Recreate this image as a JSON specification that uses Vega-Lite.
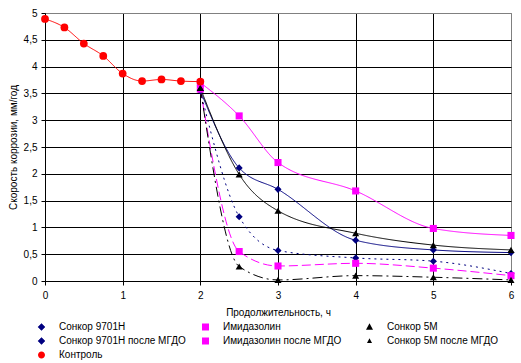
{
  "$schema": "https://vega.github.io/schema/vega-lite/v6.json",
  "width": 466,
  "height": 268,
  "autosize": {"type": "none"},
  "padding": {"left": 45, "top": 13, "right": 10, "bottom": 82},
  "background": "white",
  "config": {
    "view": {"stroke": "#808080", "strokeWidth": 1},
    "font": "Liberation Sans"
  },
  "data": {
    "values": [
      {"s": "Контроль", "x": 0, "y": 4.89},
      {"s": "Контроль", "x": 0.25, "y": 4.73},
      {"s": "Контроль", "x": 0.5, "y": 4.43},
      {"s": "Контроль", "x": 0.75, "y": 4.2},
      {"s": "Контроль", "x": 1, "y": 3.87},
      {"s": "Контроль", "x": 1.25, "y": 3.73},
      {"s": "Контроль", "x": 1.5, "y": 3.76},
      {"s": "Контроль", "x": 1.75, "y": 3.73},
      {"s": "Контроль", "x": 2, "y": 3.72},
      {"s": "Сонкор 9701Н", "x": 2, "y": 3.55},
      {"s": "Сонкор 9701Н", "x": 2.5, "y": 2.11},
      {"s": "Сонкор 9701Н", "x": 3, "y": 1.71},
      {"s": "Сонкор 9701Н", "x": 4, "y": 0.76},
      {"s": "Сонкор 9701Н", "x": 5, "y": 0.58},
      {"s": "Сонкор 9701Н", "x": 6, "y": 0.53},
      {"s": "Имидазолин", "x": 2, "y": 3.7},
      {"s": "Имидазолин", "x": 2.5, "y": 3.08},
      {"s": "Имидазолин", "x": 3, "y": 2.21},
      {"s": "Имидазолин", "x": 4, "y": 1.68},
      {"s": "Имидазолин", "x": 5, "y": 0.98},
      {"s": "Имидазолин", "x": 6, "y": 0.85},
      {"s": "Сонкор 5М", "x": 2, "y": 3.6},
      {"s": "Сонкор 5М", "x": 2.5, "y": 1.99},
      {"s": "Сонкор 5М", "x": 3, "y": 1.31},
      {"s": "Сонкор 5М", "x": 4, "y": 0.89},
      {"s": "Сонкор 5М", "x": 5, "y": 0.67},
      {"s": "Сонкор 5М", "x": 6, "y": 0.58},
      {"s": "Сонкор 9701Н после МГДО", "x": 2, "y": 3.55},
      {"s": "Сонкор 9701Н после МГДО", "x": 2.5, "y": 1.2},
      {"s": "Сонкор 9701Н после МГДО", "x": 3, "y": 0.57},
      {"s": "Сонкор 9701Н после МГДО", "x": 4, "y": 0.43},
      {"s": "Сонкор 9701Н после МГДО", "x": 5, "y": 0.37},
      {"s": "Сонкор 9701Н после МГДО", "x": 6, "y": 0.14},
      {"s": "Имидазолин после МГДО", "x": 2, "y": 3.58},
      {"s": "Имидазолин после МГДО", "x": 2.5, "y": 0.55},
      {"s": "Имидазолин после МГДО", "x": 3, "y": 0.28},
      {"s": "Имидазолин после МГДО", "x": 4, "y": 0.33},
      {"s": "Имидазолин после МГДО", "x": 5, "y": 0.24},
      {"s": "Имидазолин после МГДО", "x": 6, "y": 0.1},
      {"s": "Сонкор 5М после МГДО", "x": 2, "y": 3.6},
      {"s": "Сонкор 5М после МГДО", "x": 2.5, "y": 0.27},
      {"s": "Сонкор 5М после МГДО", "x": 3, "y": 0.02},
      {"s": "Сонкор 5М после МГДО", "x": 4, "y": 0.1},
      {"s": "Сонкор 5М после МГДО", "x": 5, "y": 0.07},
      {"s": "Сонкор 5М после МГДО", "x": 6, "y": 0.02}
    ]
  },
  "encoding": {
    "x": {
      "field": "x",
      "type": "quantitative",
      "scale": {"domain": [0, 6], "nice": false, "zero": false},
      "axis": {
        "values": [0, 1, 2, 3, 4, 5, 6],
        "title": "Продолжительность, ч",
        "grid": true,
        "gridColor": {"condition": {"test": "datum.value >= 6", "value": "#808080"}, "value": "#000000"},
        "gridWidth": 1,
        "gridOpacity": 1,
        "domainColor": "#000000",
        "tickColor": "#000000",
        "tickSize": 4,
        "labelFont": "Liberation Sans",
        "labelFontSize": 10,
        "labelColor": "#000000",
        "labelPadding": 5,
        "labelFlush": false,
        "titleFont": "Liberation Sans",
        "titleFontSize": 10,
        "titleFontWeight": "normal",
        "titleColor": "#000000",
        "titlePadding": 7
      }
    },
    "y": {
      "field": "y",
      "type": "quantitative",
      "scale": {"domain": [0, 5], "nice": false},
      "axis": {
        "values": [0, 0.5, 1, 1.5, 2, 2.5, 3, 3.5, 4, 4.5, 5],
        "labelExpr": "replace(format(datum.value, '.1~f'), '.', ',')",
        "title": "Скорость коррозии, мм/год",
        "grid": true,
        "gridColor": {"condition": {"test": "datum.value >= 5", "value": "#808080"}, "value": "#000000"},
        "gridWidth": 1,
        "gridOpacity": 1,
        "domainColor": "#000000",
        "tickColor": "#000000",
        "tickSize": 4,
        "labelFont": "Liberation Sans",
        "labelFontSize": 10,
        "labelColor": "#000000",
        "labelPadding": 4,
        "labelFlush": false,
        "titleFont": "Liberation Sans",
        "titleFontSize": 10,
        "titleFontWeight": "normal",
        "titleColor": "#000000",
        "titlePadding": 5
      }
    }
  },
  "layer": [
    {
      "mark": {"type": "point", "filled": true, "opacity": 1, "size": 0},
      "encoding": {
        "color": {
          "field": "s", "type": "nominal",
          "scale": {
            "domain": ["Сонкор 9701Н", "Сонкор 9701Н после МГДО", "Сонкор 5М после МГДО", "Имидазолин", "Имидазолин после МГДО", "Контроль", "Сонкор 5М"],
            "range": ["#000080", "#000080", "#000000", "#FF00FF", "#FF00FF", "#FF0000", "#000000"]
          },
          "legend": {
            "title": null,
            "orient": "none",
            "legendX": -18,
            "legendY": 308,
            "columns": 3,
            "symbolSize": 784,
            "clipHeight": 12,
            "rowPadding": 2,
            "columnPadding": 5,
            "gridAlign": "all",
            "labelOffset": 3,
            "labelFontSize": 10,
            "labelFont": "Liberation Sans",
            "labelColor": "#000000",
            "labelLimit": 0,
            "padding": 0,
            "symbolOpacity": 1,
            "symbolStrokeColor": {"expr": "scale('color', datum.value)"},
            "symbolStrokeWidth": 1
          }
        },
        "shape": {
          "field": "s", "type": "nominal",
          "legend": {"title": null},
          "scale": {
            "domain": ["Сонкор 9701Н", "Сонкор 9701Н после МГДО", "Сонкор 5М после МГДО", "Имидазолин", "Имидазолин после МГДО", "Контроль", "Сонкор 5М"],
            "range": [
              "M-1,0H1M0,-0.27L0.27,0L0,0.27L-0.27,0Z",
              "M-1,0H-0.8M-0.6,0H-0.4M0.4,0H0.6M0.8,0H1M0,-0.27L0.27,0L0,0.27L-0.27,0Z",
              "M-1,0H-0.3M0.35,0H0.55M0.75,0H1M0,-0.2L0.18,0.14H-0.18Z",
              "M-1,0H1M-0.25,-0.25H0.25V0.25H-0.25Z",
              "M-1,0H1M-0.25,-0.25H0.25V0.25H-0.25Z",
              "M-1,0H1M-0.25,0A0.25,0.25,0,1,0,0.25,0A0.25,0.25,0,1,0,-0.25,0Z",
              "M-1,0H1M0,-0.27L0.25,0.2H-0.25Z"
            ]
          }
        }
      }
    },
    {
      "mark": {"type": "line", "interpolate": "monotone", "strokeWidth": 1},
      "encoding": {
        "stroke": {
          "field": "s", "type": "nominal", "legend": null,
          "scale": {
            "domain": ["Сонкор 9701Н", "Имидазолин", "Сонкор 5М", "Сонкор 9701Н после МГДО", "Имидазолин после МГДО", "Сонкор 5М после МГДО", "Контроль"],
            "range": ["#000080", "#FF00FF", "#000000", "#000080", "#FF00FF", "#000000", "#FF0000"]
          }
        },
        "strokeDash": {
          "field": "s", "type": "nominal", "legend": null,
          "scale": {
            "domain": ["Сонкор 9701Н", "Имидазолин", "Сонкор 5М", "Сонкор 9701Н после МГДО", "Имидазолин после МГДО", "Сонкор 5М после МГДО", "Контроль"],
            "range": [[1, 0], [1, 0], [1, 0], [2, 4], [9, 4], [10, 4, 2, 4], [1, 0]]
          }
        }
      }
    },
    {
      "transform": [{"filter": {"field": "s", "oneOf": ["Сонкор 9701Н", "Сонкор 9701Н после МГДО"]}}],
      "mark": {"type": "point", "shape": "diamond", "filled": true, "size": 50, "opacity": 1},
      "encoding": {"fill": {"field": "s", "type": "nominal", "legend": null,
        "scale": {
          "domain": ["Сонкор 9701Н", "Имидазолин", "Сонкор 5М", "Сонкор 9701Н после МГДО", "Имидазолин после МГДО", "Сонкор 5М после МГДО", "Контроль"],
          "range": ["#000080", "#FF00FF", "#000000", "#000080", "#FF00FF", "#000000", "#FF0000"]
        }}}
    },
    {
      "transform": [{"filter": {"field": "s", "oneOf": ["Имидазолин", "Имидазолин после МГДО"]}}],
      "mark": {"type": "point", "shape": "square", "filled": true, "size": 50, "opacity": 1},
      "encoding": {"fill": {"field": "s", "type": "nominal", "legend": null}}
    },
    {
      "transform": [{"filter": {"field": "s", "oneOf": ["Сонкор 5М", "Сонкор 5М после МГДО"]}}],
      "mark": {"type": "point", "shape": "triangle-up", "filled": true, "size": 50, "opacity": 1},
      "encoding": {"fill": {"field": "s", "type": "nominal", "legend": null}}
    },
    {
      "transform": [{"filter": {"field": "s", "equal": "Контроль"}}],
      "mark": {"type": "point", "shape": "circle", "filled": true, "size": 60, "opacity": 1},
      "encoding": {"fill": {"field": "s", "type": "nominal", "legend": null}}
    }
  ]
}
